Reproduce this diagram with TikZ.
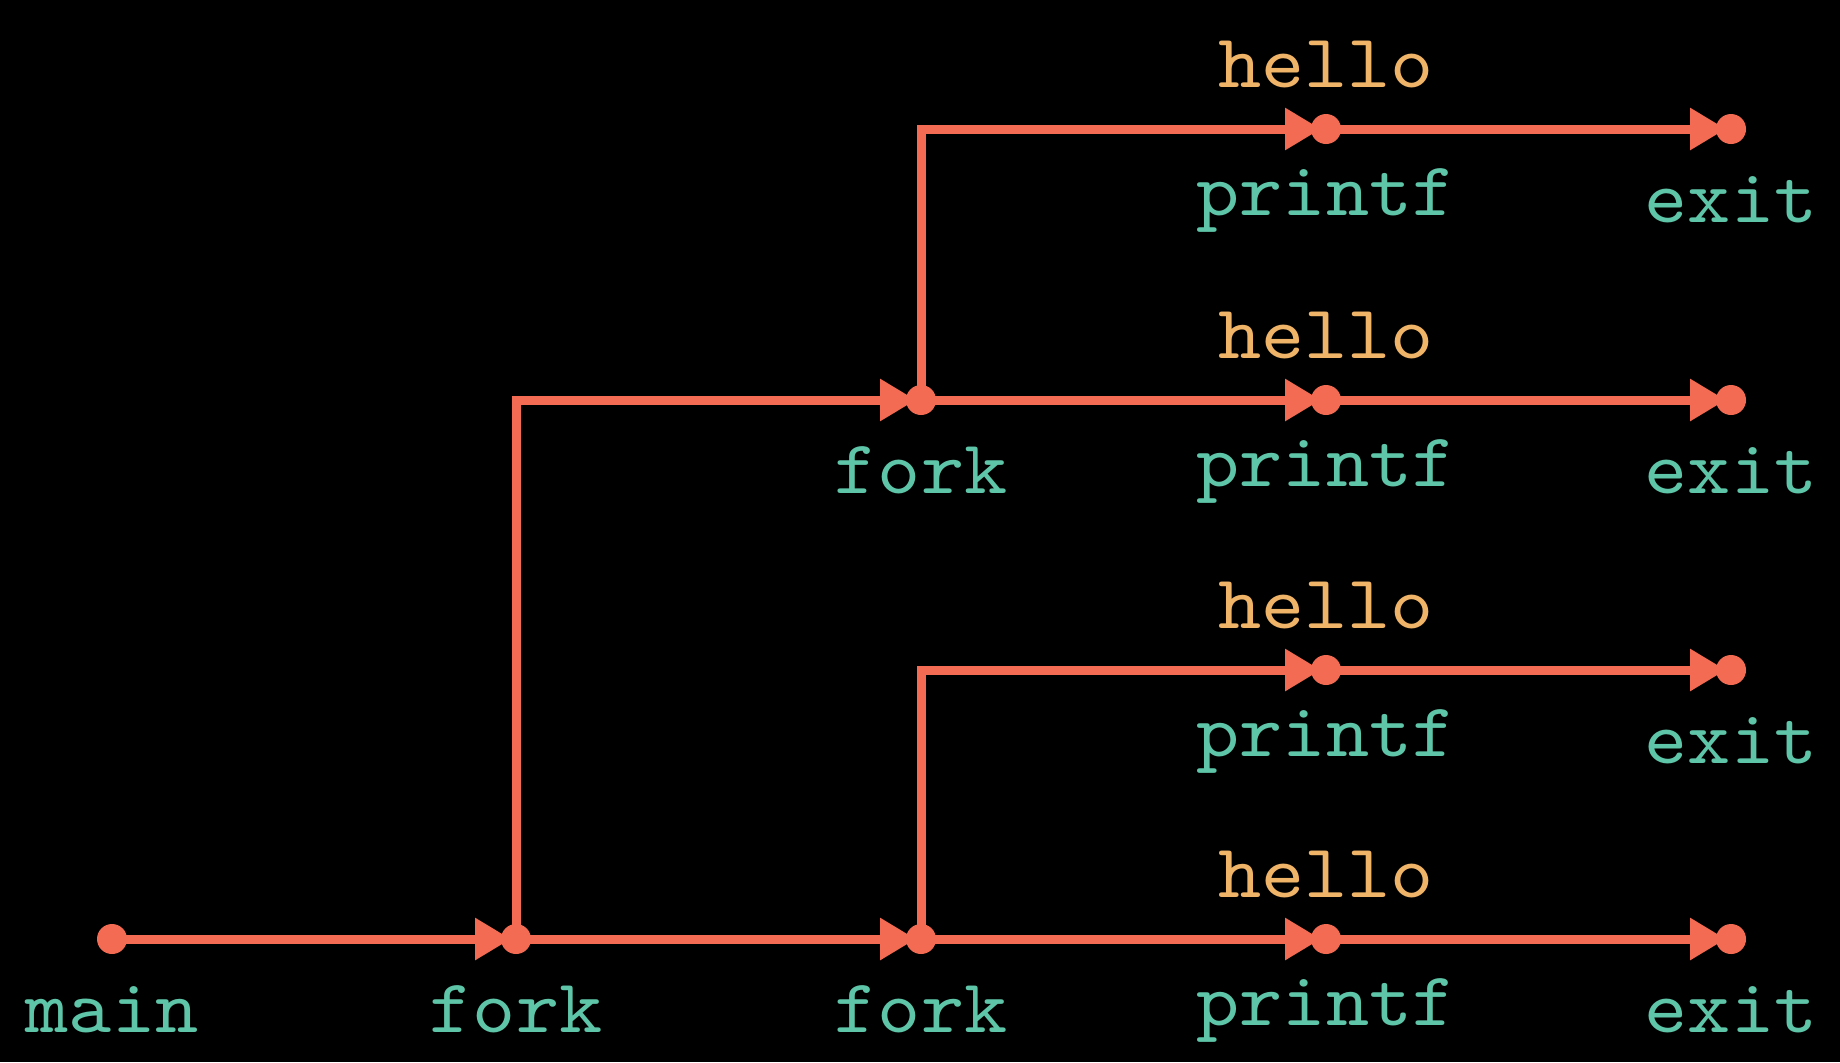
\documentclass[tikz,border=0pt]{standalone}
\usepackage{fontspec}
\newfontfamily\cmono{lmmono10-regular.otf}[FakeStretch=1.08]
\usetikzlibrary{arrows.meta}
\definecolor{linec}{HTML}{F26B52}
\definecolor{labc}{HTML}{5EC5A8}
\definecolor{helloc}{HTML}{F0B468}
\begin{document}
\begin{tikzpicture}[x=0.5pt,y=-0.5pt,
  conn/.style={draw=linec, line width=4.5pt, -{Triangle[length=18pt,width=20pt]}, shorten >=2.5pt},
  dot/.style={circle, fill=linec, inner sep=0pt, minimum size=15pt},
  lab/.style={text=labc, font=\cmono\fontsize{38}{42}\selectfont, anchor=base, inner sep=0pt},
  hel/.style={text=helloc, font=\cmono\fontsize{38}{42}\selectfont, anchor=base, inner sep=0pt}]
\fill[black] (0,0) rectangle (1840,1062);
\useasboundingbox (0,0) rectangle (1840,1062);
% positions
\coordinate (m) at (112,939);
\coordinate (f1) at (516,939);
\coordinate (f2) at (921,939);
\coordinate (f3) at (921,400);
\foreach \i/\y in {1/129,2/400,3/670,4/939}{
  \coordinate (p\i) at (1326,\y);
  \coordinate (e\i) at (1731,\y);
}
% connectors
\draw[conn] (m) -- (f1);
\draw[conn] (f1) -- (f2);
\draw[conn] (f1) |- (f3);
\draw[conn] (f3) |- (p1);
\draw[conn] (f3) -- (p2);
\draw[conn] (f2) |- (p3);
\draw[conn] (f2) -- (p4);
\foreach \i in {1,2,3,4}{
  \draw[conn] (p\i) -- (e\i);
}
% dots
\node[dot] (mdot) at (m) {};
\node[dot] (f1dot) at (f1) {};
\node[dot] (f2dot) at (f2) {};
\node[dot] (f3dot) at (f3) {};
\foreach \i in {1,2,3,4}{
  \node[dot] (pdot\i) at (p\i) {};
  \node[dot] (edot\i) at (e\i) {};
}
% labels
\node[lab] (lmain) at (112,1032) {main};
\node[lab] (lf1) at (516,1032) {fork};
\node[lab] (lf2) at (921,1032) {fork};
\node[lab] (lf3) at (921,493) {fork};
\foreach \i/\y in {1/129,2/400,3/670,4/939}{
  \node[lab] (lp\i) at (1326,\y+86) {printf};
  \node[lab] (le\i) at (1731,\y+93) {exit};
  \node[hel] (lh\i) at (1326,\y-42) {hello};
}
\end{tikzpicture}
\end{document}
